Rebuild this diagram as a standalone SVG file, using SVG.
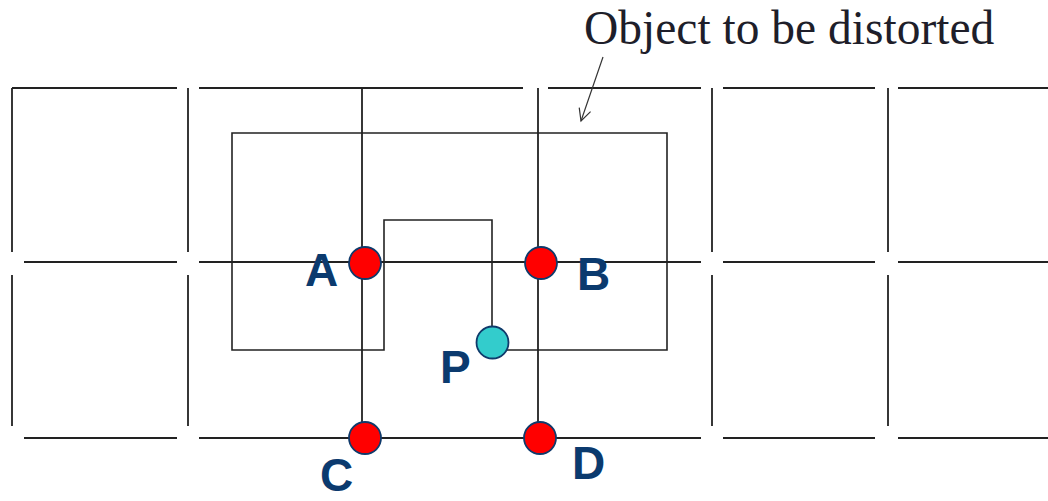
<svg xmlns="http://www.w3.org/2000/svg" width="1048" height="501" viewBox="0 0 1048 501">
<style>
.g{stroke:#222;stroke-width:1.8;fill:none}
.o{stroke:#222;stroke-width:1.6;fill:none}
.red{fill:#ff0000;stroke:#0f3a6b;stroke-width:1.8}
.teal{fill:#33cccc;stroke:#0f3a6b;stroke-width:1.8}
.lbl{font-family:"Liberation Sans",Arial,sans-serif;font-weight:bold;font-size:46px;fill:#0b3a6e}
.title{font-family:"Liberation Serif","Times New Roman",serif;font-size:47.5px;fill:#1e1e2a}
</style>
<defs>
<marker id="ah" markerWidth="16" markerHeight="16" refX="14" refY="8" orient="auto" markerUnits="userSpaceOnUse">
<path d="M2,2 L14,8 L2,14" fill="none" stroke="#333" stroke-width="1.2"/>
</marker>
</defs>
<rect width="1048" height="501" fill="#fff"/>
<g id="grid">
<path class="g" d="M12,88H177M199,88H523M548,88H701M723,88H875M898,88H1048"/>
<path class="g" d="M24,262H177M199,262H701M723,262H875M898,262H1048"/>
<path class="g" d="M24,438H177M199,438H701M723,438H875M898,438H1048"/>
<path class="g" d="M12,88V252M12,275V426M188,88V252M188,275V426M712,88V252M712,275V426M888,88V252M888,275V426"/>
<path class="g" d="M362,88V438M538,88V438"/>
</g>
<g id="object">
<path class="o" d="M232,133H667V350H492V220H384V350H232Z"/>
</g>
<g id="connectors">
<path d="M603,57L581,121" stroke="#333" stroke-width="1.2" fill="none" marker-end="url(#ah)"/>
</g>
<g id="title"><text class="title" x="584" y="44">Object to be distorted</text></g>
<g id="nodeA"><circle class="red" cx="365" cy="263" r="16"/><text class="lbl" x="305" y="286">A</text></g>
<g id="nodeB"><circle class="red" cx="541" cy="263" r="16"/><text class="lbl" x="577" y="290">B</text></g>
<g id="nodeC"><circle class="red" cx="365" cy="438" r="16"/><text class="lbl" x="320" y="491">C</text></g>
<g id="nodeD"><circle class="red" cx="540" cy="438" r="16"/><text class="lbl" x="572" y="479">D</text></g>
<g id="nodeP"><circle class="teal" cx="492.5" cy="342.5" r="16"/><text class="lbl" x="440" y="383">P</text></g>
</svg>
